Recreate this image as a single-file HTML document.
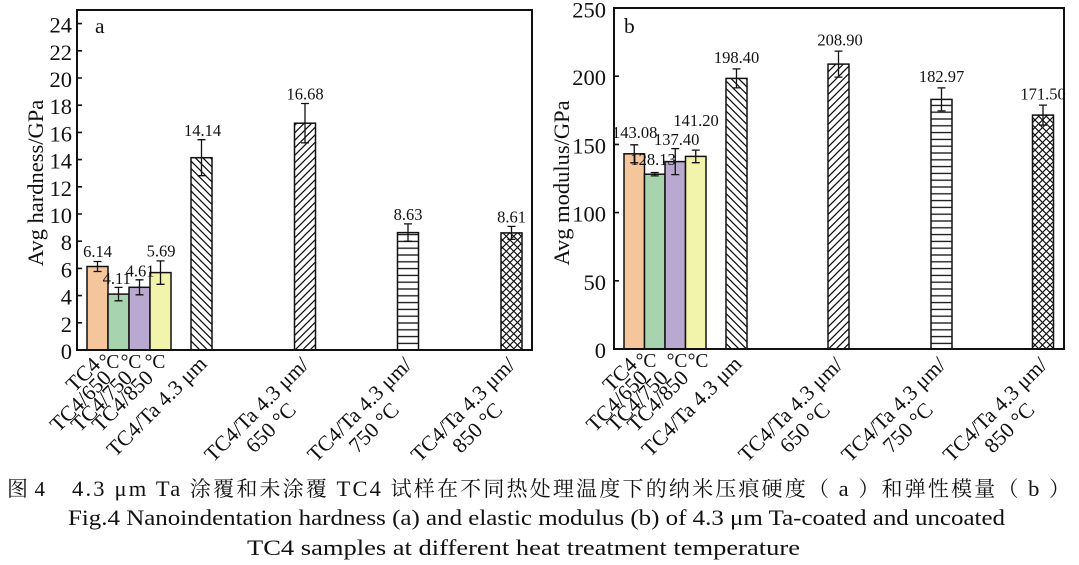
<!DOCTYPE html>
<html>
<head>
<meta charset="utf-8">
<style>
html,body{margin:0;padding:0;background:#fff;}
svg{display:block;}
text{font-family:"Liberation Serif","Noto Serif CJK SC",serif;fill:#111;}
</style>
</head>
<body>
<svg width="1079" height="565" viewBox="0 0 1079 565" xmlns="http://www.w3.org/2000/svg">
<defs>
  <pattern id="bk" width="7.5" height="7.5" patternUnits="userSpaceOnUse">
    <rect width="7.5" height="7.5" fill="#fff"/>
    <path d="M0,0 L7.5,7.5 M-1,6.5 L1,8.5 M6.5,-1 L8.5,1" stroke="#111" stroke-width="1.3"/>
  </pattern>
  <pattern id="fw" width="7.5" height="7.5" patternUnits="userSpaceOnUse">
    <rect width="7.5" height="7.5" fill="#fff"/>
    <path d="M0,7.5 L7.5,0 M-1,1 L1,-1 M6.5,8.5 L8.5,6.5" stroke="#111" stroke-width="1.3"/>
  </pattern>
  <pattern id="hz" width="8" height="6.8" patternUnits="userSpaceOnUse">
    <rect width="8" height="6.8" fill="#fff"/>
    <path d="M0,3.4 L8,3.4" stroke="#111" stroke-width="1.3"/>
  </pattern>
  <pattern id="cx" width="7.5" height="7.5" patternUnits="userSpaceOnUse">
    <rect width="7.5" height="7.5" fill="#fff"/>
    <path d="M0,0 L7.5,7.5 M-1,6.5 L1,8.5 M6.5,-1 L8.5,1 M0,7.5 L7.5,0 M-1,1 L1,-1 M6.5,8.5 L8.5,6.5" stroke="#111" stroke-width="1.15"/>
  </pattern>
</defs>

<!-- ================= LEFT CHART (a) ================= -->
<g>
  <g stroke="#111" stroke-width="1.5">
    <rect x="87" y="266.5" width="21" height="83.5" fill="#F5C59B"/>
    <rect x="108" y="294.1" width="21" height="55.9" fill="#A7D4AF"/>
    <rect x="129" y="287.3" width="21" height="62.7" fill="#B9A9D1"/>
    <rect x="150" y="272.6" width="21" height="77.4" fill="#F3F4AB"/>
    <rect x="191" y="157.7" width="21" height="192.3" fill="url(#bk)"/>
    <rect x="294.5" y="123.2" width="21" height="226.8" fill="url(#fw)"/>
    <rect x="397.5" y="232.6" width="21" height="117.4" fill="url(#hz)"/>
    <rect x="501" y="232.9" width="21" height="117.1" fill="url(#cx)"/>
  </g>
  <g stroke="#111" stroke-width="1.3" fill="none">
    <path d="M97.5,261.5 V271.5 M93.5,261.5 H101.5 M93.5,271.5 H101.5"/>
    <path d="M118.5,287.4 V300.8 M114.5,287.4 H122.5 M114.5,300.8 H122.5"/>
    <path d="M139.5,279.8 V294.8 M135.5,279.8 H143.5 M135.5,294.8 H143.5"/>
    <path d="M160.5,260.9 V284.3 M156.5,260.9 H164.5 M156.5,284.3 H164.5"/>
    <path d="M201.5,139.7 V175.7 M197.5,139.7 H205.5 M197.5,175.7 H205.5"/>
    <path d="M305,103.5 V142.9 M301,103.5 H309 M301,142.9 H309"/>
    <path d="M408,223.9 V241.3 M404,223.9 H412 M404,241.3 H412"/>
    <path d="M511.5,226.4 V239.4 M507.5,226.4 H515.5 M507.5,239.4 H515.5"/>
  </g>
  <g font-size="16.5" text-anchor="middle">
    <text x="97.5" y="257">6.14</text>
    <text x="116.7" y="284">4.11</text>
    <text x="140" y="276.5">4.61</text>
    <text x="161" y="256.5">5.69</text>
    <text x="202.5" y="136">14.14</text>
    <text x="305" y="99.5">16.68</text>
    <text x="408" y="220">8.63</text>
    <text x="511.5" y="222.5">8.61</text>
  </g>
  <rect x="77" y="10" width="455" height="340" fill="none" stroke="#111" stroke-width="2"/>
  <path d="M77,350 H82 M77,322.8 H82 M77,295.6 H82 M77,268.4 H82 M77,241.2 H82 M77,214 H82 M77,186.8 H82 M77,159.6 H82 M77,132.4 H82 M77,105.2 H82 M77,78 H82 M77,50.8 H82 M77,23.6 H82" stroke="#111" stroke-width="1.6"/>
  <g font-size="22.5" text-anchor="end">
    <text x="72" y="359">0</text>
    <text x="72" y="331.8">2</text>
    <text x="72" y="304.6">4</text>
    <text x="72" y="277.4">6</text>
    <text x="72" y="250.2">8</text>
    <text x="72" y="223">10</text>
    <text x="72" y="195.8">12</text>
    <text x="72" y="168.6">14</text>
    <text x="72" y="141.4">16</text>
    <text x="72" y="114.2">18</text>
    <text x="72" y="87">20</text>
    <text x="72" y="59.8">22</text>
    <text x="72" y="32.6">24</text>
  </g>
  <text x="95" y="33" font-size="21.5">a</text>
  <text transform="translate(43,183) rotate(-90)" font-size="22.5" text-anchor="middle">Avg hardness/GPa</text>
  <g font-size="21.5" text-anchor="end">
    <text transform="translate(101.5,366) rotate(-45)">TC4</text>
    <text transform="translate(112.5,379) rotate(-45)">TC4/650</text>
    <text transform="translate(133.5,379) rotate(-45)">TC4/750</text>
    <text transform="translate(154.5,379) rotate(-45)">TC4/850</text>
    <text transform="translate(208,365) rotate(-45)">TC4/Ta 4.3 μm</text>
    <g transform="translate(310,366) rotate(-45)">
      <text x="0" y="0">TC4/Ta 4.3 μm/</text>
      <text x="-41" y="23">650 °C</text>
    </g>
    <g transform="translate(413,366) rotate(-45)">
      <text x="0" y="0">TC4/Ta 4.3 μm/</text>
      <text x="-41" y="23">750 °C</text>
    </g>
    <g transform="translate(516.5,366) rotate(-45)">
      <text x="0" y="0">TC4/Ta 4.3 μm/</text>
      <text x="-41" y="23">850 °C</text>
    </g>
  </g>
  <g font-size="19.5" text-anchor="middle">
    <text x="109" y="368">°C</text>
    <text x="131" y="368">°C</text>
    <text x="155" y="368">°C</text>
  </g>
</g>

<!-- ================= RIGHT CHART (b) ================= -->
<g>
  <g stroke="#111" stroke-width="1.5">
    <rect x="624" y="153.8" width="20.5" height="195.2" fill="#F5C59B"/>
    <rect x="644.5" y="174.2" width="20.5" height="174.8" fill="#A7D4AF"/>
    <rect x="665" y="161.6" width="20.5" height="187.4" fill="#B9A9D1"/>
    <rect x="685.5" y="156.4" width="20.5" height="192.6" fill="#F3F4AB"/>
    <rect x="726" y="78.4" width="21" height="270.6" fill="url(#bk)"/>
    <rect x="828" y="64.1" width="21" height="284.9" fill="url(#fw)"/>
    <rect x="931" y="99.4" width="21" height="249.6" fill="url(#hz)"/>
    <rect x="1032.5" y="115.1" width="21" height="233.9" fill="url(#cx)"/>
  </g>
  <g stroke="#111" stroke-width="1.3" fill="none">
    <path d="M634.25,144.8 V162.8 M630.25,144.8 H638.25 M630.25,162.8 H638.25"/>
    <path d="M654.75,172.5 V175.9 M650.75,172.5 H658.75 M650.75,175.9 H658.75"/>
    <path d="M675.25,148.6 V174.6 M671.25,148.6 H679.25 M671.25,174.6 H679.25"/>
    <path d="M695.75,150.1 V162.7 M691.75,150.1 H699.75 M691.75,162.7 H699.75"/>
    <path d="M736.5,68.9 V87.9 M732.5,68.9 H740.5 M732.5,87.9 H740.5"/>
    <path d="M838.5,51.1 V77.1 M834.5,51.1 H842.5 M834.5,77.1 H842.5"/>
    <path d="M941.5,87.9 V110.9 M937.5,87.9 H945.5 M937.5,110.9 H945.5"/>
    <path d="M1043,105.1 V125.1 M1039,105.1 H1047 M1039,125.1 H1047"/>
  </g>
  <g font-size="16.5" text-anchor="middle">
    <text x="634.7" y="138">143.08</text>
    <text x="653" y="165">128.13</text>
    <text x="676.7" y="145">137.40</text>
    <text x="696" y="126">141.20</text>
    <text x="736.5" y="63">198.40</text>
    <text x="840" y="45.5">208.90</text>
    <text x="941.5" y="82">182.97</text>
    <text x="1043" y="99.5">171.50</text>
  </g>
  <rect x="614" y="8" width="450" height="341" fill="none" stroke="#111" stroke-width="2"/>
  <path d="M614,349 H619 M614,280.8 H619 M614,212.6 H619 M614,144.4 H619 M614,76.2 H619 M614,8 H619" stroke="#111" stroke-width="1.6"/>
  <g font-size="22.5" text-anchor="end">
    <text x="606" y="358">0</text>
    <text x="606" y="289.8">50</text>
    <text x="606" y="221.6">100</text>
    <text x="606" y="153.4">150</text>
    <text x="606" y="85.2">200</text>
    <text x="606" y="17.5">250</text>
  </g>
  <text x="624" y="33" font-size="21.5">b</text>
  <text transform="translate(569,183) rotate(-90)" font-size="22.5" text-anchor="middle">Avg modulus/GPa</text>
  <g font-size="21.5" text-anchor="end">
    <text transform="translate(638.25,366) rotate(-45)">TC4</text>
    <text transform="translate(648.75,379) rotate(-45)">TC4/650</text>
    <text transform="translate(669.25,379) rotate(-45)">TC4/750</text>
    <text transform="translate(689.75,379) rotate(-45)">TC4/850</text>
    <text transform="translate(743,365) rotate(-45)">TC4/Ta 4.3 μm</text>
    <g transform="translate(844,366) rotate(-45)">
      <text x="0" y="0">TC4/Ta 4.3 μm/</text>
      <text x="-41" y="23">650 °C</text>
    </g>
    <g transform="translate(947,366) rotate(-45)">
      <text x="0" y="0">TC4/Ta 4.3 μm/</text>
      <text x="-41" y="23">750 °C</text>
    </g>
    <g transform="translate(1048.5,366) rotate(-45)">
      <text x="0" y="0">TC4/Ta 4.3 μm/</text>
      <text x="-41" y="23">850 °C</text>
    </g>
  </g>
  <g font-size="19.5" text-anchor="middle">
    <text x="646" y="367">°C</text>
    <text x="677" y="367">°C</text>
    <text x="698" y="367">°C</text>
  </g>
</g>

<!-- ================= CAPTION ================= -->
<text x="7" y="496" font-size="21" textLength="38" lengthAdjust="spacing">图 4</text>
<text x="72" y="496" font-size="21" textLength="998" lengthAdjust="spacing"><tspan font-size="22.5">4.3 μm Ta</tspan> 涂覆和未涂覆 <tspan font-size="22.5">TC4</tspan> 试样在不同热处理温度下的纳米压痕硬度（ <tspan font-size="22.5">a</tspan> ）和弹性模量（ <tspan font-size="22.5">b</tspan> ）</text>
<text x="68" y="525" font-size="22.5" textLength="937" lengthAdjust="spacingAndGlyphs">Fig.4 Nanoindentation hardness (a) and elastic modulus (b) of 4.3 μm Ta-coated and uncoated</text>
<text x="247" y="555" font-size="22.5" textLength="553" lengthAdjust="spacingAndGlyphs">TC4 samples at different heat treatment temperature</text>
</svg>
</body>
</html>
